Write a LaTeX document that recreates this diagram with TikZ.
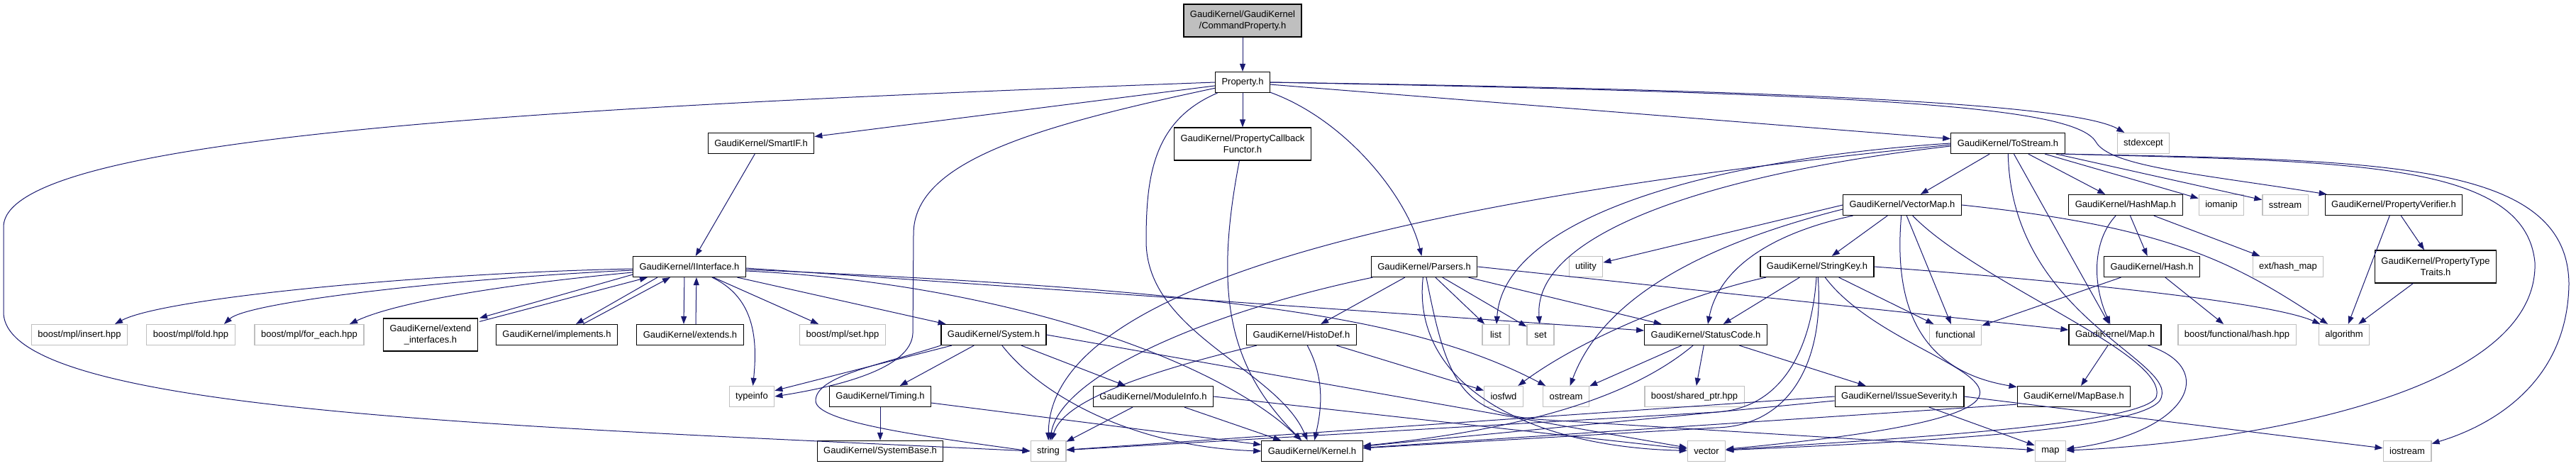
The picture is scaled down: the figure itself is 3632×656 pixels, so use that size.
\documentclass[tikz,border=0pt]{standalone}
\usepackage{fontspec}
\setmainfont{Liberation Sans}
\usetikzlibrary{arrows.meta}
\definecolor{edgeblue}{RGB}{25,25,112}
\definecolor{rootgray}{RGB}{191,191,191}
\newcommand{\depfont}{\fontsize{13}{16}\selectfont}

\begin{document}
\begin{tikzpicture}[x=1pt, y=-1pt,
  file/.style={draw=black, line width=1.2pt, fill=white, font=\depfont, inner xsep=9pt, inner ysep=0pt, minimum height=29pt, align=center},
  twoline/.style={file, minimum height=46pt},
  sys/.style={file, draw=rootgray, minimum width=38pt},
  inc/.style={draw=edgeblue, line width=1pt, -{Triangle[length=11pt,width=8pt]}}]

\useasboundingbox (0,0) rectangle (3632,656);

% files, row by row
\node[twoline, fill=rootgray] (cmd) at (1752,29) {GaudiKernel/GaudiKernel\\/CommandProperty.h};
\node[file] (property) at (1752,116) {Property.h};

\node[file] (smartif) at (1073,202) {GaudiKernel/SmartIF.h};
\node[twoline] (callback) at (1752,203) {GaudiKernel/PropertyCallback\\Functor.h};
\node[file] (tostream) at (2831,202) {GaudiKernel/ToStream.h};
\node[sys] (stdexcept) at (3022,202) {stdexcept};

\node[file] (vectormap) at (2682,289) {GaudiKernel/VectorMap.h};
\node[file] (hashmap) at (2997,289) {GaudiKernel/HashMap.h};
\node[sys] (iomanip) at (3132,289) {iomanip};
\node[sys] (sstream) at (3222,289) {sstream};
\node[file] (propverifier) at (3375,289) {GaudiKernel/PropertyVerifier.h};

\node[file] (iinterface) at (972,376) {GaudiKernel/IInterface.h};
\node[file] (parsers) at (2008,376) {GaudiKernel/Parsers.h};
\node[sys] (utility) at (2236,376) {utility};
\node[file] (stringkey) at (2562,376) {GaudiKernel/StringKey.h};
\node[file] (hash) at (3034,376) {GaudiKernel/Hash.h};
\node[sys] (hashmapext) at (3226,376) {ext/hash\_map};
\node[twoline] (proptypetraits) at (3434,376) {GaudiKernel/PropertyType\\Traits.h};

\node[sys] (insert) at (112,472) {boost/mpl/insert.hpp};
\node[sys] (fold) at (269,472) {boost/mpl/fold.hpp};
\node[sys] (foreach) at (436,472) {boost/mpl/for\_each.hpp};
\node[twoline] (extendif) at (607,472) {GaudiKernel/extend\\\_interfaces.h};
\node[file] (implements) at (785,472) {GaudiKernel/implements.h};
\node[file] (extends) at (973,472) {GaudiKernel/extends.h};
\node[sys] (mplset) at (1188,472) {boost/mpl/set.hpp};
\node[file] (system) at (1401,472) {GaudiKernel/System.h};
\node[file] (histodef) at (1835,472) {GaudiKernel/HistoDef.h};
\node[sys] (list) at (2109,472) {list};
\node[sys] (set) at (2172,472) {set};
\node[file] (statuscode) at (2405,472) {GaudiKernel/StatusCode.h};
\node[sys] (functional) at (2757,472) {functional};
\node[file] (mapH) at (2982,472) {GaudiKernel/Map.h};
\node[sys] (boosthash) at (3154,472) {boost/functional/hash.hpp};
\node[sys] (algorithm) at (3305,472) {algorithm};

\node[sys] (typeinfo) at (1060,559) {typeinfo};
\node[file] (timing) at (1241,559) {GaudiKernel/Timing.h};
\node[file] (moduleinfo) at (1626,559) {GaudiKernel/ModuleInfo.h};
\node[sys] (iosfwd) at (2120,559) {iosfwd};
\node[sys] (ostream) at (2208,559) {ostream};
\node[sys] (sharedptr) at (2389,559) {boost/shared\_ptr.hpp};
\node[file] (issue) at (2678,559) {GaudiKernel/IssueSeverity.h};
\node[file] (mapbase) at (2924,559) {GaudiKernel/MapBase.h};

\node[file] (systembase) at (1241,636) {GaudiKernel/SystemBase.h};
\node[sys] (string) at (1478,636) {string};
\node[file] (kernel) at (1850,636) {GaudiKernel/Kernel.h};
\node[sys] (vector) at (2406,636) {vector};
\node[sys] (map) at (2891,636) {map};
\node[sys] (iostream) at (3394,636) {iostream};

% CommandProperty.h and Property.h
\draw[inc] (cmd) -- (property);
\draw[inc] (property) -- (smartif);
\draw[inc] (property) -- (callback);
\draw[inc] (property) -- (tostream);
\draw[inc] (property.east) .. controls (2600,128) and (2930,150) .. (stdexcept);
\draw[inc] (property.east) .. controls (2650,132) and (2925,150) .. (2955,200) .. controls (2975,235) and (3100,245) .. (propverifier);
\draw[inc] (property) .. controls (1900,170) and (1985,280) .. (parsers);
\draw[inc] (property.west) .. controls (800,150) and (5,190) .. (5,320) -- (5,440) .. controls (5,580) and (700,600) .. (string.west);
\draw[inc] (property) .. controls (1450,180) and (1288,230) .. (1288,330) -- (1287,470) .. controls (1285,520) and (1180,545) .. (typeinfo.east);
\draw[inc] (property) .. controls (1625,170) and (1616,250) .. (1616,340) .. controls (1616,470) and (1800,520) .. (kernel);

\draw[inc] (smartif) -- (iinterface);
\draw[inc] (callback) .. controls (1710,420) and (1735,520) .. (kernel);

% IInterface.h
\draw[inc] ([yshift=-3pt]iinterface.west) .. controls (600,385) and (230,420) .. ([xshift=50pt]insert.north);
\draw[inc] ([yshift=-5pt]iinterface.west) .. controls (650,392) and (350,425) .. ([xshift=47pt]fold.north);
\draw[inc] ([yshift=-8pt]iinterface.west) .. controls (720,400) and (560,425) .. ([xshift=57pt]foreach.north);
\draw[inc] ([yshift=4pt]iinterface.south west) -- ([xshift=2pt]extendif.north east);
\draw[inc] ([xshift=2pt,yshift=-5pt]extendif.north east) -- ([xshift=21pt]iinterface.south west);
\draw[inc] ([xshift=35pt]iinterface.south west) -- ([xshift=27pt]implements.north);
\draw[inc] ([xshift=37pt]implements.north) -- ([xshift=53pt]iinterface.south west);
\draw[inc] ([xshift=73pt]iinterface.south west) -- ([xshift=-9pt]extends.north);
\draw[inc] ([xshift=8pt]extends.north) -- ([xshift=90pt]iinterface.south west);
\draw[inc] (iinterface) .. controls (1065,420) and (1068,480) .. (typeinfo);
\draw[inc] (iinterface) -- (mplset);
\draw[inc] (iinterface) -- (system);
\draw[inc] ([yshift=-6pt]iinterface.east) .. controls (1420,400) and (1720,510) .. (kernel);
\draw[inc] ([yshift=-2pt]iinterface.east) -- (statuscode);
\draw[inc] ([yshift=-4pt]iinterface.east) .. controls (1750,410) and (2000,450) .. (ostream);

% System.h, Timing.h, ModuleInfo.h
\draw[inc] (system) -- (typeinfo);
\draw[inc] (system.south west) .. controls (1240,515) and (1150,530) .. (1150,565) .. controls (1150,595) and (1300,615) .. (string.west);
\draw[inc] (system) -- (timing);
\draw[inc] (system) -- (moduleinfo);
\draw[inc] (system) .. controls (1470,560) and (1600,630) .. (kernel.west);
\draw[inc] (system.east) -- (vector);
\draw[inc] (timing) -- (systembase);
\draw[inc] (timing) -- (kernel);
\draw[inc] (moduleinfo) -- (string);
\draw[inc] (moduleinfo) -- (kernel);
\draw[inc] (moduleinfo.east) -- (vector);

% Parsers.h, HistoDef.h
\draw[inc] (parsers) -- (histodef);
\draw[inc] (parsers) -- (list);
\draw[inc] (parsers) -- (set);
\draw[inc] (parsers) -- (statuscode);
\draw[inc] (parsers.east) -- (mapH);
\draw[inc] (parsers) .. controls (1700,440) and (1495,530) .. (string);
\draw[inc] (parsers) .. controls (1990,540) and (2150,630) .. (vector);
\draw[inc] (parsers) .. controls (2040,540) and (2060,585) .. (2180,592) -- (map);
\draw[inc] (histodef) -- (iosfwd);
\draw[inc] (histodef) .. controls (1550,540) and (1495,580) .. (string);
\draw[inc] (histodef) .. controls (1872,540) and (1860,590) .. (kernel);

% ToStream.h
\draw[inc] (tostream) -- (vectormap);
\draw[inc] (tostream) -- (hashmap);
\draw[inc] (tostream) -- (iomanip);
\draw[inc] (tostream) -- (sstream);
\draw[inc] (tostream) -- (mapH);
\draw[inc] (tostream.west) .. controls (2400,225) and (2120,310) .. (list);
\draw[inc] ([yshift=-4pt]tostream.west) .. controls (2450,240) and (2160,320) .. (set);
\draw[inc] ([yshift=-2pt]tostream.west) .. controls (2100,270) and (1480,380) .. (string);
\draw[inc] (tostream) .. controls (2836,450) and (3080,510) .. (3045,565) .. controls (3010,610) and (2650,625) .. (vector);
\draw[inc] (tostream.south east) .. controls (3300,228) and (3560,225) .. (3574,370) .. controls (3580,560) and (3150,625) .. (map);
\draw[inc] ([xshift=-6pt]tostream.south east) .. controls (3350,226) and (3620,225) .. (3622,400) .. controls (3620,560) and (3480,610) .. (iostream);

% VectorMap.h, StringKey.h
\draw[inc] (vectormap) -- (stringkey);
\draw[inc] (vectormap) -- (functional);
\draw[inc] (vectormap.west) -- (utility);
\draw[inc] ([yshift=-6pt]vectormap.west) .. controls (2400,345) and (2260,420) .. (ostream);
\draw[inc] (vectormap) .. controls (2470,335) and (2420,395) .. (statuscode);
\draw[inc] (vectormap) .. controls (2668,450) and (2720,525) .. (mapbase);
\draw[inc] (vectormap.east) .. controls (3060,320) and (3150,370) .. (algorithm);
\draw[inc] (vectormap) .. controls (2790,400) and (3060,500) .. (3040,560) .. controls (3020,600) and (2650,620) .. (vector);
\draw[inc] (stringkey) -- (statuscode);
\draw[inc] (stringkey) .. controls (2400,410) and (2240,470) .. (iosfwd);
\draw[inc] (stringkey) -- (functional);
\draw[inc] (stringkey.east) .. controls (2900,395) and (3200,425) .. (algorithm);
\draw[inc] (stringkey) .. controls (2555,480) and (2520,575) .. (2420,581) -- (string);
\draw[inc] (stringkey) .. controls (2572,500) and (2530,600) .. (2420,603) -- (kernel);
\draw[inc] (stringkey) .. controls (2640,480) and (2810,520) .. (2790,560) .. controls (2770,600) and (2550,622) .. (vector);

% StatusCode.h, IssueSeverity.h
\draw[inc] (statuscode) -- (ostream);
\draw[inc] (statuscode) -- (sharedptr);
\draw[inc] (statuscode) -- (issue);
\draw[inc] (statuscode) .. controls (2300,560) and (2150,605) .. (kernel);
\draw[inc] (issue.west) -- (string);
\draw[inc] ([yshift=-6pt]issue.west) -- (kernel);
\draw[inc] (issue) -- (map);
\draw[inc] (issue.east) -- (iostream);

% maps and hashes
\draw[inc] ([yshift=4pt]mapbase.south west) -- (kernel);
\draw[inc] (mapH) -- (mapbase);
\draw[inc] (mapH) .. controls (3130,520) and (3085,610) .. (map);
\draw[inc] (hashmap) .. controls (2950,340) and (2950,400) .. (mapH);
\draw[inc] (hashmap) -- (hash);
\draw[inc] (hashmap) -- (hashmapext);
\draw[inc] (hash) -- (functional);
\draw[inc] (hash) -- (boosthash);

% verifier
\draw[inc] (propverifier) -- (algorithm);
\draw[inc] (propverifier) -- (proptypetraits);
\draw[inc] (proptypetraits) -- (algorithm);

\end{tikzpicture}
\end{document}
